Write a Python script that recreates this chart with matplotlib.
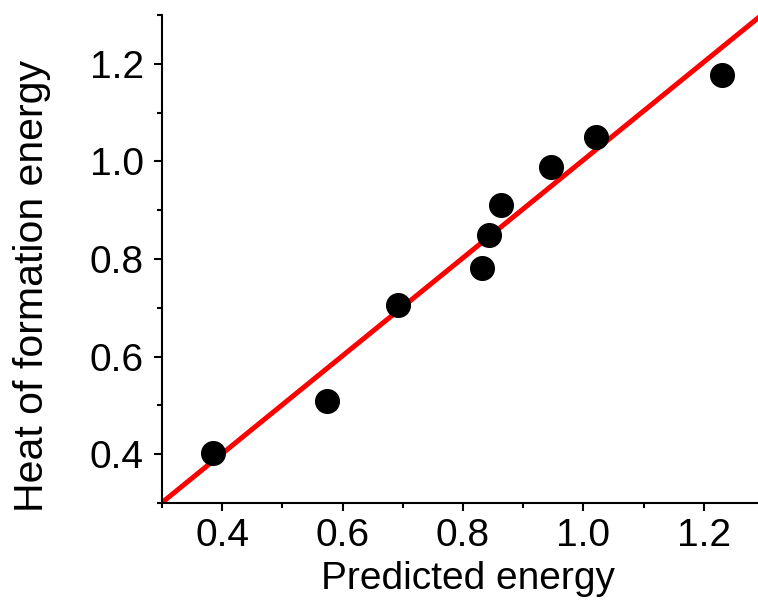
import matplotlib
matplotlib.use("Agg")
import matplotlib.pyplot as plt
import numpy as np
from matplotlib.ticker import MultipleLocator

plt.rcParams['font.family'] = ['Liberation Sans', 'DejaVu Sans']

predicted = [0.385, 0.574, 0.692, 0.832, 0.843, 0.863, 0.946, 1.021, 1.230]
heat_of_formation = [0.403, 0.509, 0.706, 0.782, 0.850, 0.911, 0.989, 1.049, 1.178]
fit_slope = 1.003
fit_intercept = 0.0

fig = plt.figure(figsize=(7.58, 6.12), dpi=100)
ax = fig.add_axes([162/758, 109/612, 1 - 162/758, (503 - 15)/612])

xlim = (0.3, 1.29)
xs = np.array(xlim)
ax.plot(xs, fit_slope * xs + fit_intercept, color='#ff0000', lw=3.6, zorder=2, clip_on=True)
ax.scatter(predicted, heat_of_formation, s=290, color='black', zorder=3, clip_on=False)

ax.set_xlim(*xlim)
ax.set_ylim(0.3, 1.3)
ax.xaxis.set_minor_locator(MultipleLocator(0.1))
ax.yaxis.set_minor_locator(MultipleLocator(0.1))
ax.set_xticks([0.4, 0.6, 0.8, 1.0, 1.2])
ax.set_xticklabels(['0.4', '0.6', '0.8', '1.0', '1.2'])
ax.set_yticks([0.4, 0.6, 0.8, 1.0, 1.2])
ax.set_yticklabels(['0.4', '0.6', '0.8', '1.0', '1.2'])

for s in ['top', 'right']:
    ax.spines[s].set_visible(False)
for s in ['left', 'bottom']:
    ax.spines[s].set_linewidth(1.5)

ax.tick_params(which='major', direction='out', length=6, width=1.5, labelsize=28)
ax.tick_params(axis='y', which='major', pad=7)
ax.tick_params(axis='x', which='major', pad=5)
ax.tick_params(which='minor', direction='out', length=3.5, width=1.5)

ax.set_xlabel('Predicted energy', fontsize=28)
ax.set_ylabel('Heat of formation energy', fontsize=29.5)
ax.xaxis.set_label_coords(0.513, -0.119)
ax.yaxis.set_label_coords(-0.186, 0.445)

fig.savefig('out.png', dpi=100)
